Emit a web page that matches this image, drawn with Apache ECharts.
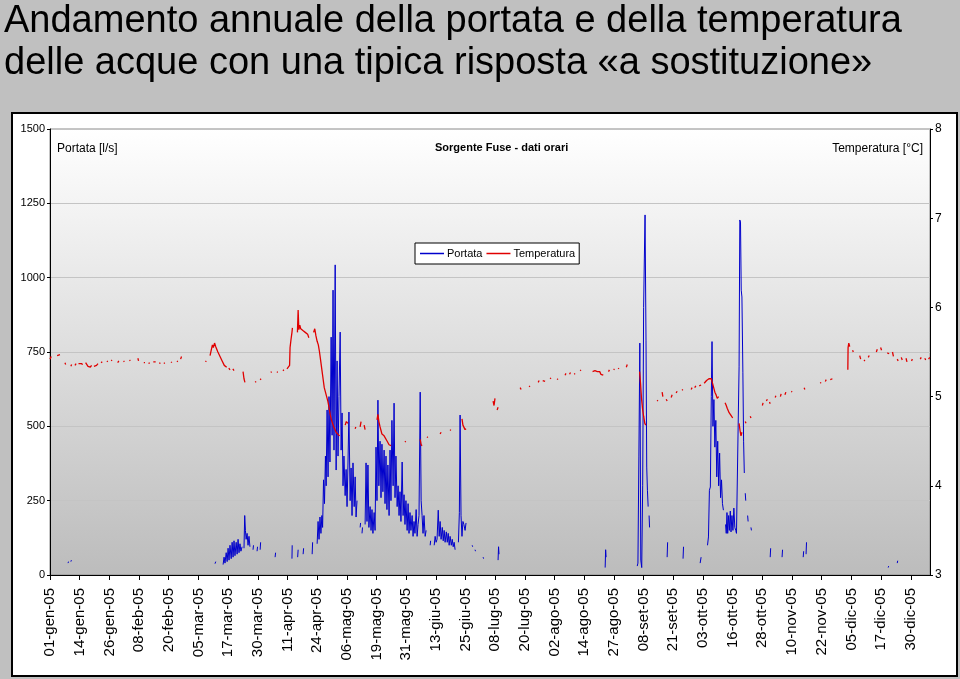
<!DOCTYPE html>
<html>
<head>
<meta charset="utf-8">
<script src="https://cdn.jsdelivr.net/npm/echarts@6/dist/echarts.min.js"></script>
<style>
html,body{margin:0;padding:0;background:#c0c0c0;}
#chart{width:960px;height:679px;}
</style>
</head>
<body>
<div id="chart"></div>
<script>
// Tick labels (one every 12.5 days = 300 hourly samples)
var tickLabels = ['01-gen-05','14-gen-05','26-gen-05','08-feb-05','20-feb-05','05-mar-05','17-mar-05','30-mar-05','11-apr-05','24-apr-05','06-mag-05','19-mag-05','31-mag-05','13-giu-05','25-giu-05','08-lug-05','20-lug-05','02-ago-05','14-ago-05','27-ago-05','08-set-05','21-set-05','03-ott-05','16-ott-05','28-ott-05','10-nov-05','22-nov-05','05-dic-05','17-dic-05','30-dic-05'];
var seriesNames = ['Portata','Temperatura'];

// Portata [l/s]: segments of [day of year, value]; gaps between segments = missing data
var portataSegments = [
 [[7.6,40],[7.8,45]], [[8.8,45],[9.0,50]],
 [[69.5,38],[69.8,45]],
 [[72.9,35],[73.3,60],[73.7,40],[74.2,75],[74.6,45],[75.0,90],[75.4,50],[75.8,100],[76.3,55],[76.7,110],[77.1,60],[77.5,115],[77.9,65],[78.4,110],[78.8,70],[79.2,120],[79.6,75],[80.0,105],[80.4,80],[80.9,95]],
 [[81.7,90],[82.0,200],[82.3,150],[82.6,120],[83.0,140],[83.4,100],[83.8,130],[84.2,95]],
 [[85.5,85],[85.7,100]], [[87.2,80],[87.4,95]], [[88.5,85],[88.7,110]],
 [[94.8,60],[95.0,75]],
 [[101.9,55],[102.0,100]], [[104.3,60],[104.5,85]], [[106.6,70],[106.8,90]], [[110.4,70],[110.6,110]],
 [[112.5,105],[112.9,180],[113.3,120],[113.7,195],[114.1,140],[114.5,200],[114.8,160],[115.2,320],[115.6,240],[116.0,400],[116.3,300],[116.7,555],[117.1,330],[117.5,600],[117.9,380],[118.4,800],[118.8,470],[119.2,958],[119.6,420],[120.1,1043],[120.5,353],[120.9,720],[121.3,400],[121.7,600],[122.2,817],[122.6,420],[123.0,545],[123.4,300],[123.8,400],[124.3,267],[124.7,355],[125.1,230],[125.5,380],[125.9,548],[126.4,250],[126.8,360],[127.2,200],[127.6,377],[128.1,230],[128.5,330],[128.9,195],[129.3,250]],
 [[130.6,160],[130.8,175]], [[131.4,140],[131.6,160]],
 [[132.7,170],[133.1,377],[133.5,180],[133.9,370],[134.3,160],[134.8,230],[135.2,150],[135.6,220],[136.0,140],[136.5,210],[136.9,150],[137.3,430],[137.7,250],[138.1,588],[138.5,300],[139.0,450],[139.4,260],[139.8,440],[140.2,280],[140.7,420],[141.1,240],[141.5,400],[141.9,220],[142.3,370],[142.8,200],[143.2,420],[143.6,250],[144.0,520],[144.5,300],[144.9,578],[145.3,260],[145.7,400],[146.2,230],[146.6,300],[147.0,200],[147.4,280],[147.8,180],[148.3,380],[148.7,200],[149.1,270],[149.5,170],[149.9,250],[150.4,150],[150.8,240],[151.2,140],[151.6,210],[152.0,150],[152.5,200],[152.9,130],[153.3,180],[153.7,140],[154.2,220],[154.6,130],[155.0,170],[155.4,200],[155.9,615],[156.3,250],[156.7,200],[157.1,140],[157.5,200],[158.0,130],[158.4,150]],
 [[160.1,100],[160.3,115]],
 [[161.8,100],[162.2,130],[162.6,110],[163.0,120],[163.5,218],[163.9,130],[164.3,180],[164.7,120],[165.2,160],[165.6,115],[166.0,150],[166.4,110],[166.9,145],[167.3,110],[167.7,140],[168.1,100],[168.5,130],[169.0,100],[169.4,120],[169.8,95],[170.2,110],[170.6,85]],
 [[172.0,110],[172.4,210],[172.7,538],[173.1,200],[173.5,130],[173.9,180],[174.3,170],[174.8,150],[175.2,175]],
 [[177.8,100],[178.0,95]], [[179.0,85],[179.2,80]], [[182.4,60],[182.6,55]],
 [[188.7,50],[188.9,95],[189.1,70]],
 [[233.8,25],[234.0,85],[234.2,60]],
 [[247.3,30],[247.6,40],[248.0,400],[248.4,780],[248.8,50],[249.2,25],[249.6,300],[250.0,900],[250.3,1066],[250.6,1211],[251.0,790],[251.3,363],[251.6,285],[251.9,230]],
 [[252.3,200],[252.5,160]],
 [[259.9,60],[260.1,110]], [[266.6,55],[266.8,95]], [[273.8,40],[274.2,60]],
 [[276.9,100],[277.3,128],[277.7,285],[278.1,296],[278.5,600],[278.8,785],[279.2,500],[279.6,590],[280.0,430],[280.4,520],[280.8,330],[281.2,450],[281.6,300],[282.0,410],[282.4,260],[282.8,320],[283.2,240],[283.6,218]],
 [[284.5,170],[284.8,140],[285.1,210],[285.4,140],[285.8,200],[286.1,150],[286.5,215],[286.8,145],[287.2,200],[287.6,150],[288.0,225],[288.4,160],[288.8,150],[289.1,140],[289.6,140],[290.2,700],[290.5,1194],[290.8,1187],[291.1,958],[291.4,935],[291.8,680],[292.1,450],[292.4,343]],
 [[292.8,275],[293.0,250]], [[293.8,200],[294.0,180]], [[295.2,160],[295.4,150]],
 [[303.3,60],[303.5,90]], [[308.3,60],[308.5,85]], [[317.2,60],[317.4,80]], [[318.4,70],[318.6,110]],
 [[353.0,25],[353.2,30]], [[356.8,40],[357.0,48]]
];

// Temperatura [°C]: segments of [day of year, value]
var temperaturaSegments = [
 [[0.0,5.42],[0.5,5.45]], [[3.0,5.46],[3.5,5.44],[4.2,5.47]], [[6.3,5.38],[6.6,5.36]],
 [[8.8,5.34],[9.1,5.36]], [[10.5,5.35],[11.0,5.37]], [[12.0,5.37],[12.6,5.36],[13.2,5.37],[13.8,5.36]],
 [[15.0,5.38],[15.5,5.36],[16.0,5.34],[16.6,5.36],[17.0,5.33],[17.5,5.35]],
 [[18.5,5.34],[19.0,5.36],[19.6,5.35],[20.2,5.37]], [[21.5,5.38],[22.0,5.39]],
 [[24.0,5.40],[24.3,5.39]], [[25.8,5.41],[26.1,5.40]], [[28.5,5.38],[29.0,5.40]], [[31.0,5.40],[31.3,5.39]],
 [[33.5,5.41],[33.8,5.40]], [[37.0,5.43],[37.3,5.40]], [[39.5,5.38],[40.0,5.38]], [[41.5,5.37],[42.0,5.38]],
 [[43.5,5.39],[44.0,5.38],[44.5,5.39]], [[46.0,5.38],[46.5,5.37]], [[48.0,5.38],[48.3,5.37]],
 [[51.0,5.39],[51.3,5.38]], [[53.5,5.40],[53.8,5.39]], [[55.0,5.42],[55.4,5.45]],
 [[65.5,5.39],[65.8,5.40]],
 [[67.4,5.46],[67.9,5.52],[68.4,5.58],[68.8,5.55],[69.3,5.60],[69.8,5.56],[70.3,5.57],[70.7,5.50],[71.2,5.49],[71.6,5.45],[72.1,5.44],[72.5,5.40],[73.0,5.38],[73.4,5.35],[73.9,5.36],[74.4,5.33]],
 [[75.3,5.32],[75.8,5.30]], [[77.0,5.31],[77.5,5.29]], [[81.3,5.28],[81.7,5.20],[82.1,5.16]],
 [[86.4,5.16],[86.8,5.17]], [[88.5,5.19],[88.9,5.20]], [[93.0,5.27],[93.3,5.28]], [[95.6,5.28],[95.9,5.27]],
 [[98.1,5.29],[98.5,5.30]],
 [[99.8,5.31],[100.3,5.33],[100.9,5.35],[101.1,5.55],[101.5,5.64],[101.9,5.72],[102.1,5.77]],
 [[104.2,5.72],[104.5,5.97],[104.8,5.75],[105.2,5.80],[105.6,5.76],[106.0,5.78],[106.5,5.74],[107.0,5.76],[107.5,5.72],[108.0,5.74],[108.5,5.70],[109.0,5.66]],
 [[111.0,5.72],[111.5,5.76],[112.0,5.68],[112.5,5.62],[113.0,5.58],[113.5,5.50],[114.0,5.40],[114.5,5.30],[115.0,5.20],[115.5,5.10],[116.0,5.05],[116.5,5.00],[117.0,4.95],[117.5,4.88],[118.0,4.80],[118.5,4.74],[119.0,4.70],[119.5,4.66],[120.0,4.63],[120.5,4.60],[121.0,4.58],[121.5,4.57],[122.0,4.56]],
 [[124.3,4.68],[124.8,4.72],[125.5,4.70]], [[128.5,4.64],[128.8,4.66]], [[130.6,4.66],[131.0,4.72]], [[132.3,4.68],[132.7,4.63]],
 [[137.7,4.74],[138.1,4.80],[138.5,4.72],[139.0,4.66],[139.4,4.62],[139.8,4.58],[140.2,4.60],[140.7,4.56],[141.1,4.54],[141.5,4.55],[142.0,4.50],[142.4,4.48],[142.8,4.46],[143.2,4.48],[143.6,4.45]],
 [[149.5,4.49],[149.8,4.50]], [[155.9,4.52],[156.3,4.46],[156.7,4.45]], [[158.8,4.55],[159.1,4.54]],
 [[164.3,4.58],[164.7,4.60]], [[168.5,4.63],[168.8,4.62]], [[173.5,4.75],[173.9,4.68],[174.3,4.66],[174.8,4.63],[175.2,4.64]],
 [[186.6,4.95],[187.0,4.90],[187.4,4.98]], [[188.3,4.85],[188.7,4.88]],
 [[198.0,5.10],[198.4,5.08]], [[201.8,5.12],[202.1,5.11]], [[205.6,5.16],[206.0,5.18]], [[207.5,5.18],[208.0,5.20],[208.5,5.17]],
 [[210.6,5.20],[211.0,5.21]], [[213.6,5.20],[213.9,5.19]], [[216.9,5.24],[217.3,5.26]], [[218.8,5.25],[219.2,5.27]],
 [[220.8,5.26],[221.1,5.25]], [[223.3,5.30],[223.6,5.29]],
 [[228.5,5.28],[229.0,5.30],[229.5,5.29],[230.0,5.31],[230.5,5.28],[231.0,5.27],[231.5,5.28],[232.0,5.25],[232.5,5.23],[233.0,5.24]],
 [[235.2,5.28],[235.6,5.30]], [[237.4,5.30],[237.7,5.31]], [[239.3,5.32],[239.6,5.31]], [[242.7,5.33],[243.1,5.36]],
 [[248.3,5.28],[248.7,5.15],[249.1,4.98],[249.6,4.85],[250.0,4.78],[250.5,4.70],[250.9,4.68]],
 [[255.7,4.96],[256.0,4.95]], [[257.8,5.05],[258.1,5.00]], [[259.5,4.97],[259.9,4.95]], [[261.6,4.99],[262.0,5.02]],
 [[263.7,5.04],[264.1,5.06]], [[266.2,5.08],[266.5,5.07]], [[270.0,5.08],[270.4,5.10]], [[271.5,5.10],[272.0,5.12]],
 [[273.4,5.12],[273.8,5.14],[274.2,5.13]],
 [[275.5,5.15],[276.0,5.16],[276.5,5.18],[277.0,5.17],[277.5,5.20],[278.0,5.18],[278.5,5.20],[279.0,5.15],[279.5,5.10],[280.0,5.05],[280.5,5.02],[281.0,4.98],[281.6,5.00]],
 [[284.3,4.93],[284.8,4.90],[285.2,4.87],[285.6,4.85],[286.0,4.82],[286.5,4.80],[287.0,4.78],[287.5,4.76]],
 [[290.2,4.70],[290.6,4.62],[291.0,4.56],[291.4,4.60]], [[292.8,4.72],[293.1,4.70]], [[294.9,4.78],[295.2,4.76]],
 [[300.0,4.90],[300.3,4.93]], [[301.7,4.95],[302.1,4.97]], [[303.0,4.94],[303.3,4.92]], [[305.4,4.99],[305.7,5.01]],
 [[307.6,5.00],[307.9,5.03]], [[309.5,5.02],[309.9,5.05]], [[312.2,5.06],[312.5,5.05]], [[317.6,5.10],[317.9,5.08]],
 [[324.4,5.15],[324.7,5.16]], [[326.5,5.17],[326.9,5.19]], [[328.6,5.19],[329.0,5.21],[329.5,5.20]],
 [[336.0,5.30],[336.1,5.55],[336.4,5.60],[336.8,5.56]], [[338.0,5.52],[338.3,5.50]],
 [[341.0,5.46],[341.4,5.42]], [[342.8,5.40],[343.2,5.41]], [[344.6,5.44],[345.0,5.46]],
 [[348.0,5.50],[348.4,5.53]], [[349.8,5.55],[350.2,5.52]], [[352.6,5.49],[353.0,5.50],[353.4,5.48]],
 [[354.8,5.50],[355.2,5.45]], [[356.8,5.42],[357.2,5.40]], [[358.5,5.44],[358.9,5.41]], [[360.5,5.43],[360.9,5.39]],
 [[362.8,5.40],[363.2,5.42]], [[366.5,5.42],[366.9,5.44]], [[368.4,5.43],[368.8,5.41]], [[370.0,5.42],[370.5,5.44]]
];

function flatten(segs){
  var out=[];
  segs.forEach(function(s,i){
    if(i>0) out.push(['-','-']);
    s.forEach(function(p){out.push(p);});
  });
  return out;
}

var FONT = "'Liberation Sans',Arial,sans-serif";
var chart = echarts.init(document.getElementById('chart'), null, {renderer:'canvas'});
var option = {
  animation:false,
  backgroundColor:'#c0c0c0',
  textStyle:{fontFamily:FONT},
  graphic:[
    {type:'rect', z:-10, shape:{x:12,y:113,width:945,height:563}, style:{fill:'#ffffff',stroke:'#000',lineWidth:2}},
    {type:'text', left:4, top:3, style:{text:'Andamento annuale della portata e della temperatura', font:"38px "+FONT, fill:'#000'}},
    {type:'text', left:4, top:45, style:{text:'delle acque con una tipica risposta «a sostituzione»', font:"38px "+FONT, fill:'#000'}},
    {type:'text', left:57, top:143, z:10, style:{text:'Portata [l/s]', font:"12px "+FONT, fill:'#000'}},
    {type:'text', left:435, top:142, z:10, style:{text:'Sorgente Fuse - dati orari', font:"bold 11px "+FONT, fill:'#000'}},
    {type:'text', right:37, top:143, z:10, style:{text:'Temperatura [°C]', font:"12px "+FONT, fill:'#000'}}
  ],
  legend:{
    left:415, top:243, data:seriesNames, orient:'horizontal',
    icon:'rect', itemWidth:24, itemHeight:1.5, itemGap:4,
    backgroundColor:'#fff', borderColor:'#000', borderWidth:1, padding:[5,4,5,5],
    textStyle:{fontSize:11, color:'#000', fontFamily:FONT, padding:[0,0,0,-2]}
  },
  grid:{left:50, top:129, right:30, bottom:104, show:true, borderColor:'#8a8a8a', borderWidth:1,
    backgroundColor:{type:'linear',x:0,y:0,x2:0,y2:1,colorStops:[{offset:0,color:'#ffffff'},{offset:1,color:'#bcbcbc'}]}},
  xAxis:{
    type:'value', min:0, max:370.6, interval:12.5,
    axisLine:{show:true, lineStyle:{color:'#000',width:1}},
    axisTick:{show:true, length:5, lineStyle:{color:'#000'}},
    splitLine:{show:false},
    axisLabel:{rotate:90, fontSize:15, color:'#000', fontFamily:FONT, margin:13, showMaxLabel:false,
      formatter:function(v){var i=Math.round(v/12.5); return Math.abs(v-i*12.5)<1e-6 && tickLabels[i]? tickLabels[i] : '';}}
  },
  yAxis:[
    {type:'value', min:0, max:1500, interval:250, position:'left',
      axisLine:{show:true, lineStyle:{color:'#000'}},
      axisTick:{show:true, length:3, lineStyle:{color:'#000'}},
      splitLine:{show:true, lineStyle:{color:'#c4c4c4', width:1}},
      axisLabel:{fontSize:11, color:'#000', margin:5, formatter:function(v){return String(v);}}},
    {type:'value', min:3, max:8, interval:1, position:'right',
      axisLine:{show:true, lineStyle:{color:'#000'}},
      axisTick:{show:true, length:3, lineStyle:{color:'#000'}},
      splitLine:{show:false},
      axisLabel:{fontSize:12, color:'#000', margin:5, formatter:function(v){return String(v);}}}
  ],
  series:[
    {name:seriesNames[0], type:'line', yAxisIndex:0, data:flatten(portataSegments), showSymbol:false, symbol:'none',
      connectNulls:false, lineStyle:{color:'#0000cc', width:1}, itemStyle:{color:'#0000cc'}, z:2},
    {name:seriesNames[1], type:'line', yAxisIndex:1, data:flatten(temperaturaSegments), showSymbol:false, symbol:'none',
      connectNulls:false, lineStyle:{color:'#e00000', width:1.3}, itemStyle:{color:'#e00000'}, z:3}
  ]
};
chart.setOption(option);
</script>
</body>
</html>
